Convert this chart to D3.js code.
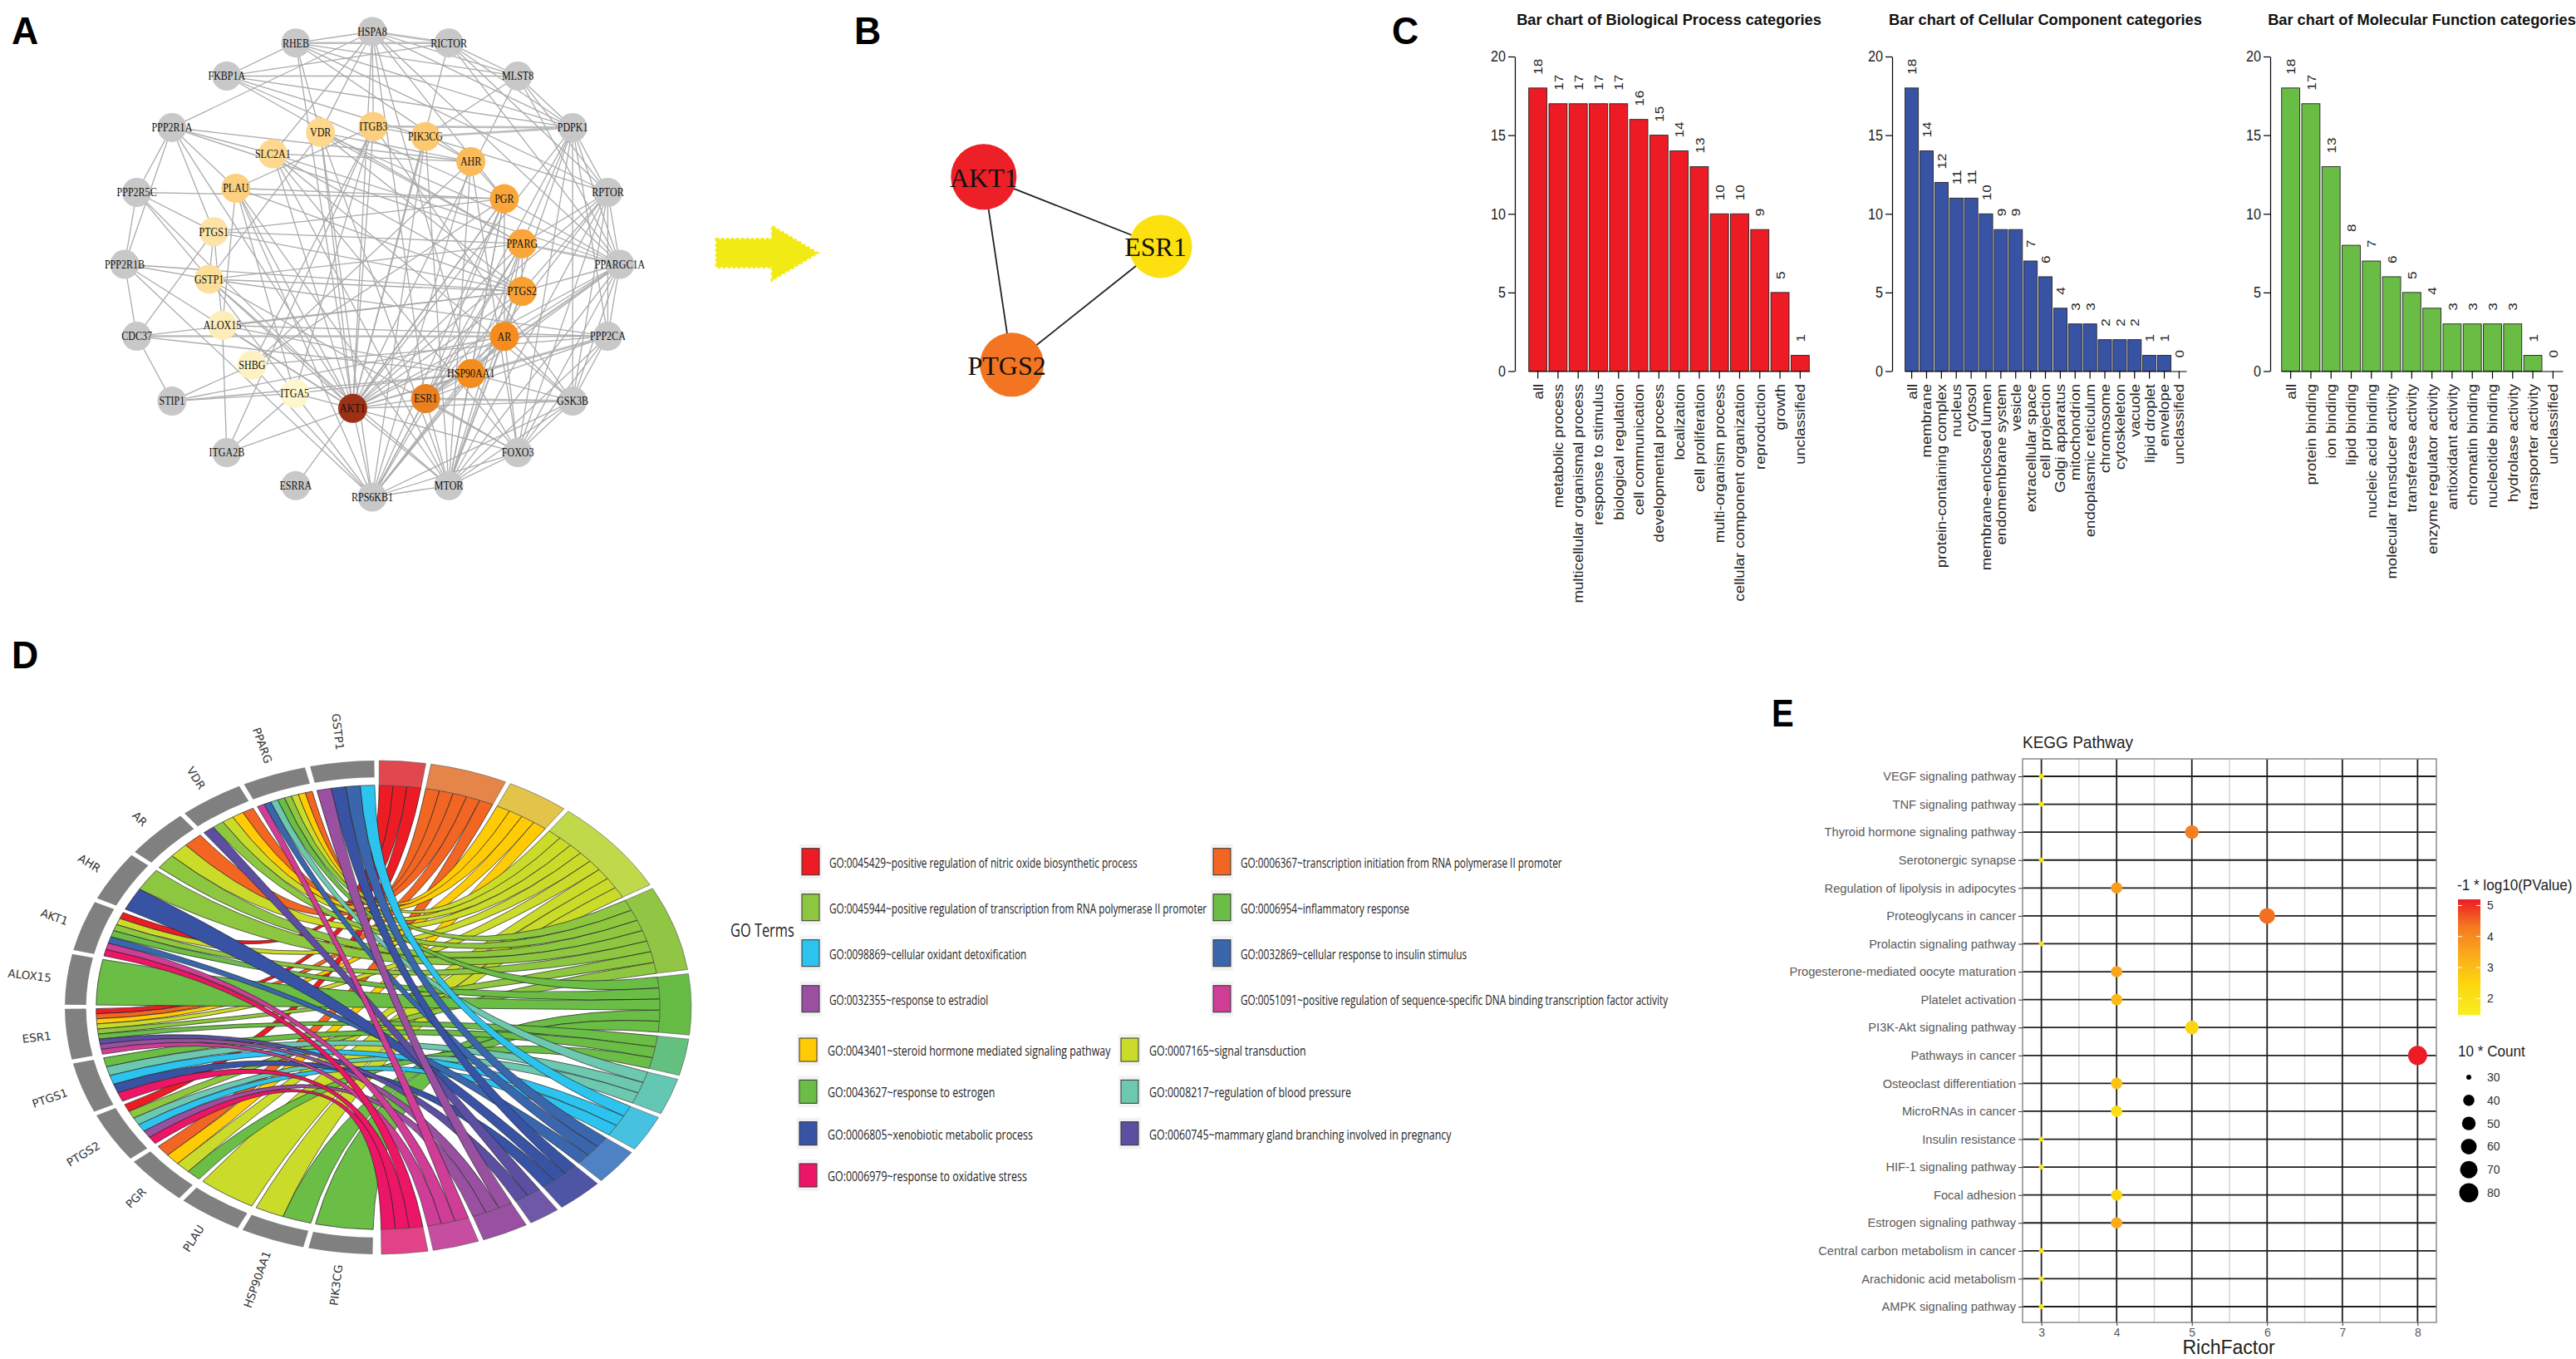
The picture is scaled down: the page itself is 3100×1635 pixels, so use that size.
<!DOCTYPE html>
<html><head><meta charset="utf-8">
<script src="https://cdnjs.cloudflare.com/ajax/libs/d3/7.8.5/d3.min.js"></script>
<style>html,body{margin:0;padding:0;background:#fff}svg{display:block}</style>
</head><body><svg id="c" width="3100" height="1635"></svg>
<script>
// ---------- DATA ----------
const outerGenes=["HSPA8","RICTOR","MLST8","PDPK1","RPTOR","PPARGC1A","PPP2CA","GSK3B","FOXO3","MTOR","RPS6KB1","ESRRA","ITGA2B","STIP1","CDC37","PPP2R1B","PPP2R5C","PPP2R1A","FKBP1A","RHEB"];
const innerGenes=["AKT1","ESR1","HSP90AA1","AR","PTGS2","PPARG","PGR","AHR","PIK3CG","ITGB3","VDR","SLC2A1","PLAU","PTGS1","GSTP1","ALOX15","SHBG","ITGA5"];
const innerDegree=[35,24,22,22,19,18,18,15,13,12,11,11,12,9,10,7,6,5];
const edgeLists=[
"AKT1: RPS6KB1 MTOR FOXO3 GSK3B PPARGC1A PPP2CA ITGA2B HSPA8 RHEB RICTOR MLST8 PDPK1 RPTOR PPP2R1A PPP2R5C PPP2R1B ESR1 HSP90AA1 AR PTGS2 PPARG PGR VDR ITGB3 PLAU GSTP1 ALOX15 ITGA5 SLC2A1 PIK3CG",
"ESR1: GSK3B MTOR RPS6KB1 HSP90AA1 AR PTGS2 PPARG PGR FOXO3 PPARGC1A PPP2CA HSPA8",
"HSP90AA1: PPP2CA STIP1 CDC37 GSK3B MTOR RPS6KB1 FOXO3 AR PGR PPARG HSPA8 PPARGC1A ITGA5 ALOX15",
"AR: CDC37 STIP1 PPP2CA GSK3B MTOR FOXO3 PTGS2 PGR PPARG RPS6KB1 PPARGC1A",
"PTGS2: GSTP1 PTGS1 ALOX15 PLAU VDR PPARGC1A PPARG RPTOR SLC2A1 PPP2R1B CDC37 MTOR",
"PPARG: PTGS1 VDR PPP2R1A PPARGC1A RPTOR PDPK1 GSTP1 FKBP1A MTOR RPS6KB1",
"PGR: PLAU AHR PPP2R5C SHBG FKBP1A MTOR RPS6KB1 PPARGC1A HSPA8 PTGS1 ESRRA",
"AHR: VDR PPP2R1A RHEB RPS6KB1 MTOR PIK3CG SHBG FOXO3 SLC2A1",
"PIK3CG: ITGB3 PDPK1 RPTOR MTOR MLST8 FKBP1A RPS6KB1",
"ITGB3: PDPK1 PLAU SHBG HSPA8 ITGA5 ITGA2B GSK3B",
"VDR: RHEB MTOR HSPA8 PPARGC1A RPS6KB1 GSTP1",
"SLC2A1: HSPA8 GSK3B MTOR PPARGC1A PPP2R1A FOXO3",
"PLAU: ITGA5 ALOX15 RPS6KB1 PPP2R1A MTOR",
"PTGS1: GSTP1 ALOX15 PPP2R1A PPP2R5C CDC37",
"GSTP1: PPP2R1B PPP2R5C FOXO3 MTOR PPP2CA RPS6KB1",
"ALOX15: ITGA2B PPP2CA",
"SHBG: STIP1 PPP2CA RPS6KB1",
"ITGA5: STIP1 ITGA2B",
"HSPA8: RICTOR RHEB PPP2R1A MLST8 PDPK1 PPARGC1A",
"RICTOR: RHEB FKBP1A MLST8 PDPK1 PPARGC1A RPTOR",
"RHEB: FKBP1A MLST8 PDPK1 RPTOR",
"FKBP1A: MLST8 PDPK1",
"MLST8: PDPK1 RPTOR PPARGC1A",
"PDPK1: RPTOR PPARGC1A PPP2CA GSK3B FOXO3 MTOR RPS6KB1",
"RPTOR: PPARGC1A PPP2CA GSK3B FOXO3 MTOR RPS6KB1",
"PPARGC1A: PPP2CA GSK3B FOXO3 MTOR",
"PPP2CA: GSK3B FOXO3 MTOR",
"GSK3B: FOXO3 MTOR RPS6KB1",
"FOXO3: MTOR RPS6KB1",
"MTOR: RPS6KB1",
"PPP2R1A: PPP2R5C PPP2R1B",
"PPP2R5C: PPP2R1B",
"PPP2R1B: RPS6KB1",
"CDC37: STIP1 PPP2R1B"
];
const heavyEdges=["RICTOR-RHEB","PIK3CG-PDPK1","ITGB3-PDPK1","AR-CDC37","ESR1-GSK3B","HSP90AA1-PPP2CA","ESR1-PPARGC1A","HSPA8-RICTOR","PPARG-PPARGC1A"];
const hubGenes=["AKT1","ESR1","PTGS2"];
const hubEdges=[["AKT1","ESR1"],["AKT1","PTGS2"],["PTGS2","ESR1"]];

const bpCats=["all","metabolic process","multicellular organismal process","response to stimulus","biological regulation","cell communication","developmental process","localization","cell proliferation","multi-organism process","cellular component organization","reproduction","growth","unclassified"];
const bpVals=[18,17,17,17,17,16,15,14,13,10,10,9,5,1];
const ccCats=["all","membrane","protein-containing complex","nucleus","cytosol","membrane-enclosed lumen","endomembrane system","vesicle","extracellular space","cell projection","Golgi apparatus","mitochondrion","endoplasmic reticulum","chromosome","cytoskeleton","vacuole","lipid droplet","envelope","unclassified"];
const ccVals=[18,14,12,11,11,10,9,9,7,6,4,3,3,2,2,2,1,1,0];
const mfCats=["all","protein binding","ion binding","lipid binding","nucleic acid binding","molecular transducer activity","transferase activity","enzyme regulator activity","antioxidant activity","chromatin binding","nucleotide binding","hydrolase activity","transporter activity","unclassified"];
const mfVals=[18,17,13,8,7,6,5,4,3,3,3,3,1,0];
const barTicks=[0,5,10,15,20];

const chordGenes=["PIK3CG","HSP90AA1","PLAU","PGR","PTGS2","PTGS1","ESR1","ALOX15","AKT1","AHR","AR","VDR","PPARG","GSTP1"];
const termIds=["GO:0045429~positive regulation of nitric oxide biosynthetic process","GO:0006367~transcription initiation from RNA polymerase II promoter","GO:0043401~steroid hormone mediated signaling pathway","GO:0007165~signal transduction","GO:0045944~positive regulation of transcription from RNA polymerase II promoter","GO:0006954~inflammatory response","GO:0043627~response to estrogen","GO:0008217~regulation of blood pressure","GO:0098869~cellular oxidant detoxification","GO:0032869~cellular response to insulin stimulus","GO:0006805~xenobiotic metabolic process","GO:0060745~mammary gland branching involved in pregnancy","GO:0032355~response to estradiol","GO:0051091~positive regulation of sequence-specific DNA binding transcription factor activity","GO:0006979~response to oxidative stress"];
const termGenes=[
["AKT1","ESR1","PTGS2"],
["PPARG","VDR","AR","ESR1","PGR"],
["PPARG","VDR","ESR1","PGR"],
["PPARG","VDR","AR","AKT1","ESR1","PGR","PLAU","HSP90AA1"],
["PPARG","VDR","AR","AHR","AKT1","ESR1","PTGS2"],
["PPARG","AKT1","ALOX15","HSP90AA1","PIK3CG"],
["ESR1","PTGS1","PGR"],
["PPARG","PTGS1","PTGS2"],
["GSTP1","PTGS1","PTGS2"],
["GSTP1","PPARG","AKT1"],
["GSTP1","AHR","PTGS1"],
["VDR","ESR1"],
["GSTP1","ESR1","PTGS2"],
["PPARG","AKT1","ESR1"],
["AKT1","PTGS1","PTGS2"]];
const termColors=["#ed1c24","#f26522","#ffcb05","#cbdb2a","#8dc63f","#6abd45","#6abd45","#6dc8b0","#2cc4ef","#3a66ae","#3953a4","#5c4ea0","#9950a0","#cf3d97","#ec1566"];
const termBlockColors=["#e0474f","#e58549","#e2c44a","#bfd94a","#90c643","#66bb44","#63c07f","#64c7b4","#47c1e0","#4f82c4","#4f55a5","#7058a8","#9a50a0","#c64da0","#e24286"];
const legendOrder1=[[0,1],[4,5],[8,9],[12,13]];
const legendOrder2=[[2,3],[6,7],[10,11],[14,null]];

const keggPaths=["VEGF signaling pathway","TNF signaling pathway","Thyroid hormone signaling pathway","Serotonergic synapse","Regulation of lipolysis in adipocytes","Proteoglycans in cancer","Prolactin signaling pathway","Progesterone-mediated oocyte maturation","Platelet activation","PI3K-Akt signaling pathway","Pathways in cancer","Osteoclast differentiation","MicroRNAs in cancer","Insulin resistance","HIF-1 signaling pathway","Focal adhesion","Estrogen signaling pathway","Central carbon metabolism in cancer","Arachidonic acid metabolism","AMPK signaling pathway"];
const keggRich=[3,3,5,3,4,6,3,4,4,5,8,4,4,3,3,4,4,3,3,3];
const keggLogP=[1.9,1.9,4.2,1.9,3.7,4.4,1.9,3.5,3.1,2.4,5.2,2.9,2.1,1.9,1.9,2.5,3.4,1.9,1.9,1.9];
const keggCount=[30,30,50,30,40,60,30,40,40,50,80,40,40,30,30,40,40,30,30,30];
const logPTicks=[2,3,4,5];
const countTicks=[30,40,50,60,70,80];
const richTicks=[3,4,5,6,7,8];

// ---------- HELPERS ----------
const svg=d3.select("#c");
const SANS="'Liberation Sans',Arial,sans-serif",SERIF="'Liberation Serif','Times New Roman',serif",DEJA="'DejaVu Sans',sans-serif",OPEN="'Open Sans',sans-serif";
function txt(g,s,x,y,o={}){
  const t=g.append("text").text(s).attr("transform",`translate(${x},${y}) rotate(${o.rot||0}) scale(${o.sx||1},1)`)
    .attr("font-family",o.ff||SANS).attr("font-size",o.fs||14).attr("fill",o.fill||"#111")
    .attr("text-anchor",o.anchor||"start").attr("font-weight",o.fw||"normal");
  if(o.mid) t.attr("dominant-baseline","central");
  return t;
}
[["A",14,53],["B",1028,53],["C",1675,53],["D",14,804],["E",2132,874]].forEach(d=>txt(svg,d[0],d[1],d[2],{fs:47,fw:"bold",fill:"#000",sx:d[0]=="E"?.85:.95}));

// ---------- PANEL A ----------
(function(){
 const g=svg.append("g");
 const outerA=d3.scaleLinear().domain([0,outerGenes.length]).range([0,2*Math.PI]);
 const innerA=d3.scaleLinear().domain([0,1,17]).range([-5,22,333].map(d=>d*Math.PI/180));
 const ox=d3.scaleLinear().domain([-1,1]).range([150,746]), oy=d3.scaleLinear().domain([-1,1]).range([38,598]);
 const ix=d3.scaleLinear().domain([-1,1]).range([251,631]), iy=d3.scaleLinear().domain([-1,1]).range([152,492]);
 const col=d3.scaleLinear().domain([5,10,13,18,22,24,35]).range(["#fef6cc","#fddf9c","#fdc970","#fba63a","#f48c1e","#ea8020","#9c3116"]);
 const pos={};
 outerGenes.forEach((n,i)=>{const a=outerA(i);pos[n]={x:ox(Math.sin(a)),y:oy(-Math.cos(a)),c:"#c8c8c8"};});
 innerGenes.forEach((n,i)=>{const a=innerA(i);pos[n]={x:ix(Math.sin(a)),y:iy(Math.cos(a)),c:col(innerDegree[i])};});
 const edges=[];
 edgeLists.forEach(l=>{const [a,b]=l.split(": ");b.split(" ").forEach(t=>edges.push([a,t]));});
 const heavy=d=>heavyEdges.includes(d[0]+"-"+d[1])||heavyEdges.includes(d[1]+"-"+d[0]);
 g.selectAll("line.e").data(edges).join("line").attr("x1",d=>pos[d[0]].x).attr("y1",d=>pos[d[0]].y).attr("x2",d=>pos[d[1]].x).attr("y2",d=>pos[d[1]].y)
  .attr("stroke",d=>heavy(d)?"#bdbdbd":"#ababab").attr("stroke-width",d=>heavy(d)?2.6:1.3);
 const names=outerGenes.concat(innerGenes);
 g.selectAll("circle").data(names).join("circle").attr("cx",d=>pos[d].x).attr("cy",d=>pos[d].y).attr("r",17.5).attr("fill",d=>pos[d].c);
 names.forEach(n=>txt(g,n,pos[n].x,pos[n].y,{ff:SERIF,fs:14,anchor:"middle",mid:1,fill:"#111",sx:.86}));
 const arrowShape=[[0,-.26],[.55,-.26],[.55,-.5],[1,0],[.55,.5],[.55,.26],[0,.26]];
 const ax=d3.scaleLinear().domain([0,1]).range([862,984]),ay=d3.scaleLinear().domain([-.5,.5]).range([272,337]);
 const lineA=d3.line().x(d=>ax(d[0])).y(d=>ay(d[1])).curve(d3.curveLinearClosed);
 g.append("path").attr("d",lineA(arrowShape)).attr("fill","#f2ea15").attr("stroke","#f2ea15").attr("stroke-width",3).attr("stroke-dasharray","3 3");
})();

// ---------- PANEL B ----------
(function(){
 const g=svg.append("g");
 const ang=d3.scaleLinear().domain([0,hubGenes.length]).range([-38.5,321.5].map(d=>d*Math.PI/180));
 const px=d3.scaleLinear().domain([-1,1]).range([1134,1398]),py=d3.scaleLinear().domain([-1,1]).range([184,448]);
 const pos={};hubGenes.forEach((n,i)=>{pos[n]={x:px(Math.sin(ang(i))),y:py(-Math.cos(ang(i)))};});
 const cols=d3.scaleOrdinal().domain(hubGenes).range(["#ed1f27","#fde010","#f37521"]);
 const rad=d3.scaleOrdinal().domain(hubGenes).range([39.5,38,38.5]);
 const off=d3.scaleOrdinal().domain(hubGenes).range([0,-6,-6]);
 g.selectAll("line").data(hubEdges).join("line").attr("x1",d=>pos[d[0]].x).attr("y1",d=>pos[d[0]].y).attr("x2",d=>pos[d[1]].x).attr("y2",d=>pos[d[1]].y).attr("stroke","#222").attr("stroke-width",1.8);
 g.selectAll("circle").data(hubGenes).join("circle").attr("cx",d=>pos[d].x).attr("cy",d=>pos[d].y).attr("r",d=>rad(d)).attr("fill",d=>cols(d));
 hubGenes.forEach(n=>txt(g,n,pos[n].x+off(n),pos[n].y+1,{ff:SERIF,fs:32,anchor:"middle",mid:1,fill:"#111"}));
})();

// ---------- PANEL C ----------
function barPanel(cats,vals,color,title,axisX,x0,x1){
 const g=svg.append("g");
 const y=d3.scaleLinear().domain([0,20]).range([446.5,68]);
 const x=d3.scaleBand().domain(cats).range([x0,x1]).paddingInner(.1).paddingOuter(.03);
 g.selectAll("rect").data(cats).join("rect").attr("x",d=>x(d)).attr("width",x.bandwidth()).attr("y",(d,i)=>y(vals[i])).attr("height",(d,i)=>y(0)-y(vals[i])).attr("fill",color).attr("stroke","#222").attr("stroke-width",.9);
 const ya=g.append("g").attr("transform",`translate(${axisX},0)`).call(d3.axisLeft(y).tickValues(barTicks).tickSize(8).tickSizeOuter(0));
 ya.selectAll("path,line").attr("stroke","#000").attr("stroke-width",1.2);
 ya.selectAll("text").attr("font-family",SANS).attr("font-size",18).attr("fill","#222").attr("lengthAdjust","spacingAndGlyphs").attr("textLength",d=>d<10?9:18);
 const xa=g.append("g").attr("transform",`translate(0,${y(0)})`).call(d3.axisBottom(x).tickSize(9).tickSizeOuter(0));
 xa.selectAll("path,line").attr("stroke","#000").attr("stroke-width",1.2);
 xa.selectAll("text").attr("font-family",SANS).attr("font-size",17).attr("fill","#222").attr("text-anchor","end").attr("transform","rotate(-90) scale(1.09,1)").attr("x",-15.5/1.09).attr("y",0).attr("dy",".35em");
 cats.forEach((c,i)=>txt(g,vals[i],x(c)+x.bandwidth()/2,y(vals[i])-16,{rot:-90,fs:15.5,sx:1.1,mid:1,fill:"#222"}));
 txt(g,title,(x0+x1)/2,30,{fs:19,fw:"bold",anchor:"middle",sx:.96,fill:"#111"});
}
barPanel(bpCats,bpVals,"#ed1c24","Bar chart of Biological Process categories",1823,1839,2178);
barPanel(ccCats,ccVals,"#3953a4","Bar chart of Cellular Component categories",2277,2292,2631);
barPanel(mfCats,mfVals,"#69bd45","Bar chart of Molecular Function categories",2732,2745,3084);

// ---------- PANEL D ----------
(function(){
 const cx=455,cy=1212,rx=377,ry=297,R=1000,deg=Math.PI/180;
 const wrap=svg.append("g");
 const g=wrap.append("g").attr("transform",`translate(${cx},${cy}) scale(${rx/R},${ry/R})`);
 const geneAng=d3.scaleBand().domain(chordGenes).range([181*deg,359.3*deg]).paddingInner(.075);
 const total=d3.sum(termGenes,d=>d.length),gapU=.34;
 const termAng=d3.scaleLinear().domain([0,total+gapU*(termGenes.length-1)]).range([0.2*deg,179.4*deg]);
 const slots=[];let cum=0;const termRange=[];
 termGenes.forEach((gs,t)=>{
   const s=cum; const ordered=chordGenes.filter(n=>gs.includes(n)).slice().reverse();
   ordered.forEach((n,k)=>slots.push({t,n,a0:termAng(s+k),a1:termAng(s+k+1)}));
   cum+=gs.length; termRange.push([termAng(s),termAng(cum)]); cum+=gapU;
 });
 const rIn=900;
 const arc=d3.arc();
 const ribbon=d3.ribbon();
 const geneSlot=n=>{
   const ts=termGenes.map((gs,t)=>gs.includes(n)?t:-1).filter(t=>t>=0).reverse();
   return d3.scaleBand().domain(ts).range([geneAng(n),geneAng(n)+geneAng.bandwidth()]);
 };
 slots.forEach(s=>{const b=geneSlot(s.n);s.g0=b(s.t);s.g1=b(s.t)+b.bandwidth();});
 g.selectAll("path.rb").data(slots).join("path").attr("d",d=>ribbon({source:{startAngle:d.a0,endAngle:d.a1,radius:rIn},target:{startAngle:d.g0,endAngle:d.g1,radius:rIn}}))
  .attr("fill",d=>termColors[d.t]).attr("stroke","#222").attr("stroke-width",.7).attr("vector-effect","non-scaling-stroke");
 g.selectAll("path.tb").data(termRange).join("path").attr("class","tb").attr("d",d=>arc({innerRadius:rIn,outerRadius:R,startAngle:d[0],endAngle:d[1]}))
  .attr("fill",(d,i)=>termBlockColors[i]).attr("stroke","#555").attr("stroke-width",.6).attr("vector-effect","non-scaling-stroke");
 g.selectAll("path.gb").data(chordGenes).join("path").attr("class","gb").attr("d",d=>arc({innerRadius:932,outerRadius:R,startAngle:geneAng(d),endAngle:geneAng(d)+geneAng.bandwidth()}))
  .attr("fill","#808080");
 chordGenes.forEach(n=>{
   const a=geneAng(n)+geneAng.bandwidth()/2,r=1.05;
   const x=cx+rx*r*Math.sin(a),y=cy-ry*r*Math.cos(a);
   txt(wrap,n,x,y,{ff:DEJA,fs:13.5,anchor:"end",mid:1,rot:a/deg-270,fill:"#333"});
 });
 // legend
 const lg=svg.append("g");
 txt(lg,"GO Terms",879,1119,{fs:21,sx:.78,mid:1,fill:"#222",ff:OPEN});
 const rowsA=d3.scalePoint().domain(d3.range(4)).range([1036.7,1201.7]);
 const rowsB=d3.scalePoint().domain(d3.range(4)).range([1263,1414]);
 const probe=txt(lg,termIds[0],0,0,{fs:17,ff:OPEN});
 const sxLegend=371/probe.node().getComputedTextLength();probe.remove();
 function row(pairs,ys,colX,textX,h,bg,sx){
   pairs.forEach((p,i)=>p.forEach((t,c)=>{
     if(t===null) return;
     lg.append("rect").attr("x",colX[c]-3).attr("y",ys(i)-bg/2).attr("width",27).attr("height",bg).attr("fill","#f3f3f3");
     lg.append("rect").attr("x",colX[c]).attr("y",ys(i)-h/2).attr("width",21).attr("height",h).attr("fill",termColors[t]).attr("stroke","#333").attr("stroke-width",1);
     txt(lg,termIds[t],textX[c],ys(i),{fs:17,mid:1,fill:"#222",ff:OPEN,sx});
   }));
 }
 row(legendOrder1,rowsA,[965,1460],[998,1493],32,42,sxLegend);
 row(legendOrder2,rowsB,[962,1349],[996,1383],28,38,sxLegend*1.05);
})();

// ---------- PANEL E ----------
(function(){
 const g=svg.append("g");
 const x=d3.scaleLinear().domain([2.75,8.25]).range([2434,2932]);
 const y=d3.scalePoint().domain(keggPaths).range([934,1572]);
 const Y0=913,Y1=1591;
 const col=d3.scaleLinear().domain([1.47,2.5,3.4,4.3,5.2]).range(["#f6ee1f","#fdd50f","#fbab1c","#f47a20","#ed1c24"]);
 const rad=d3.scaleLinear().domain(countTicks).range([3,6.8,8.2,9.5,10.5,11.5]);
 g.selectAll("line.mn").data([3.5,4.5,5.5,6.5,7.5]).join("line").attr("class","mn").attr("x1",x).attr("x2",x).attr("y1",Y0).attr("y2",Y1).attr("stroke","#d5d5d5").attr("stroke-width",1.5);
 g.selectAll("line.vg").data(richTicks).join("line").attr("class","vg").attr("x1",x).attr("x2",x).attr("y1",Y0).attr("y2",Y1).attr("stroke","#1e1e1e").attr("stroke-width",1.8);
 g.selectAll("line.hg").data(keggPaths).join("line").attr("class","hg").attr("x1",2434).attr("x2",2932).attr("y1",y).attr("y2",y).attr("stroke","#1e1e1e").attr("stroke-width",1.8);
 g.append("rect").attr("x",2434).attr("y",Y0).attr("width",498).attr("height",Y1-Y0).attr("fill","none").attr("stroke","#8a8a8a").attr("stroke-width",1.5);
 g.selectAll("circle.p").data(keggPaths).join("circle").attr("class","p").attr("cx",(d,i)=>x(keggRich[i])).attr("cy",d=>y(d)).attr("r",(d,i)=>rad(keggCount[i])).attr("fill",(d,i)=>col(keggLogP[i]));
 const ya=g.append("g").attr("transform","translate(2434,0)").call(d3.axisLeft(y).tickSize(5).tickSizeOuter(0));
 ya.select("path").remove();
 ya.selectAll("line").attr("stroke","#333");
 ya.selectAll("text").attr("font-family",SANS).attr("font-size",14.6).attr("fill","#5a5a5a").attr("x",-8);
 const xa=g.append("g").attr("transform",`translate(0,${Y1})`).call(d3.axisBottom(x).tickValues(richTicks).tickFormat(d3.format("d")).tickSize(4).tickSizeOuter(0));
 xa.select("path").remove();
 xa.selectAll("line").attr("stroke","#333");
 xa.selectAll("text").attr("font-family",SANS).attr("font-size",14).attr("fill","#5a5a5a").attr("y",7);
 txt(g,"KEGG Pathway",2434,900,{fs:20,sx:.95,fill:"#222"});
 txt(g,"RichFactor",2682,1629,{fs:23,anchor:"middle",fill:"#222"});
 txt(g,"-1 * log10(PValue)",2957,1071,{fs:18,sx:.95,fill:"#222"});
 const defs=svg.append("defs");
 const lgd=defs.append("linearGradient").attr("id","cb").attr("x1",0).attr("x2",0).attr("y1",1).attr("y2",0);
 col.domain().forEach((v)=>lgd.append("stop").attr("offset",(v-1.47)/(5.2-1.47)).attr("stop-color",col(v)));
 const cs=d3.scaleLinear().domain([1.47,5.2]).range([1221,1082]);
 g.append("rect").attr("x",2958).attr("y",cs(5.2)).attr("width",27).attr("height",cs(1.47)-cs(5.2)).attr("fill","url(#cb)");
 logPTicks.forEach(v=>{
   g.append("line").attr("x1",2958).attr("x2",2963).attr("y1",cs(v)).attr("y2",cs(v)).attr("stroke","#fff");
   g.append("line").attr("x1",2980).attr("x2",2985).attr("y1",cs(v)).attr("y2",cs(v)).attr("stroke","#fff");
   txt(g,v,2993,cs(v),{fs:14,mid:1,fill:"#333"});
 });
 txt(g,"10 * Count",2958,1271,{fs:18,sx:.95,fill:"#222"});
 const ls=d3.scalePoint().domain(countTicks).range([1296,1435]);
 countTicks.forEach(v=>{
   g.append("circle").attr("cx",2971).attr("cy",ls(v)).attr("r",rad(v)).attr("fill","#000");
   txt(g,v,2993,ls(v),{fs:14,mid:1,fill:"#333"});
 });
})();
</script></body></html>
